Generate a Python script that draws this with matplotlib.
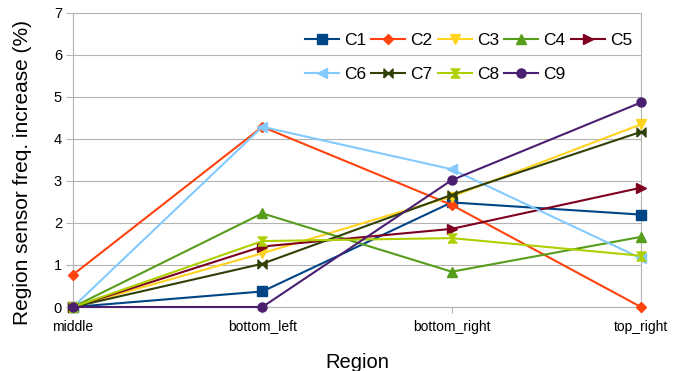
import numpy as np
import matplotlib
matplotlib.use('Agg')
import matplotlib.pyplot as plt

plt.rcParams['font.family'] = ['Liberation Sans', 'DejaVu Sans']

# ── Data ───────────────────────────────────────────────────
regions = ['middle', 'bottom_left', 'bottom_right', 'top_right']
series_names = ['C1', 'C2', 'C3', 'C4', 'C5', 'C6', 'C7', 'C8', 'C9']
C1 = [0.00, 0.37, 2.49, 2.20]
C2 = [0.77, 4.29, 2.43, 0.00]
C3 = [0.00, 1.28, 2.63, 4.35]
C4 = [0.00, 2.23, 0.84, 1.67]
C5 = [0.00, 1.44, 1.86, 2.84]
C6 = [0.00, 4.29, 3.28, 1.16]
C7 = [0.00, 1.03, 2.67, 4.17]
C8 = [0.00, 1.57, 1.64, 1.22]
C9 = [0.00, 0.00, 3.02, 4.87]
values = [C1, C2, C3, C4, C5, C6, C7, C8, C9]

# ── Style ──────────────────────────────────────────────────
colors = ['#004586', '#ff420e', '#ffd320', '#579d1c', '#7e0021',
          '#83caff', '#314004', '#aecf00', '#4b1f6f']
bowtie = [(-1, -1), (1, 1), (1, -1), (-1, 1), (-1, -1)]
hourglass = [(-1, -1), (1, -1), (-1, 1), (1, 1), (-1, -1)]
markers = ['s', 'D', 'v', '^', '>', '<', bowtie, hourglass, 'o']
msizes = [6.5, 5.5, 6.5, 6.5, 6.5, 6.5, 6.5, 6.5, 6.5]
GRID = '#b3b3b3'

fig = plt.figure(figsize=(6.85, 3.71), dpi=100)
ax = fig.add_axes([0.1066, 0.1725, 0.8292, 0.7925])

x = np.arange(len(regions))
handles = []
for name, vals, c, m, ms in zip(series_names, values, colors, markers, msizes):
    h, = ax.plot(x, vals, color=c, lw=1.5, marker=m, ms=ms,
                 markeredgecolor=c, markerfacecolor=c, label=name,
                 clip_on=False, zorder=3)
    handles.append(h)

ax.set_xlim(0, len(regions) - 1)
ax.set_ylim(0, 7)
ax.set_yticks(range(0, 8))
ax.set_xticks(x)
ax.set_xticklabels(regions, fontsize=10)
ax.tick_params(axis='y', labelsize=10.5, length=5, color=GRID, pad=3)
ax.tick_params(axis='x', length=4, color=GRID, pad=5)

ax.grid(True, axis='y', color=GRID, lw=0.8)
ax.set_axisbelow(True)
for side in ['left', 'right', 'bottom']:
    ax.spines[side].set_color(GRID)
    ax.spines[side].set_linewidth(0.8)
ax.spines['top'].set_visible(False)

ax.set_xlabel('Region', fontsize=14.5)
ax.xaxis.set_label_coords(0.5, -0.156)
ax.set_ylabel('Region sensor freq. increase (%)', fontsize=15)
ax.yaxis.set_label_coords(-0.072, 0.456)

# legend filled row by row: C1..C5 on top, C6..C9 below
order = [0, 5, 1, 6, 2, 7, 3, 8, 4]
ax.legend([handles[i] for i in order], [series_names[i] for i in order],
          ncol=5, loc='upper right', bbox_to_anchor=(0.9226, 0.912),
          bbox_transform=fig.transFigure, frameon=False, fontsize=12.5,
          handlelength=1.95, handletextpad=0.3, columnspacing=0.3,
          labelspacing=1.1, borderpad=0, borderaxespad=0)

fig.savefig('out.png', dpi=100)
